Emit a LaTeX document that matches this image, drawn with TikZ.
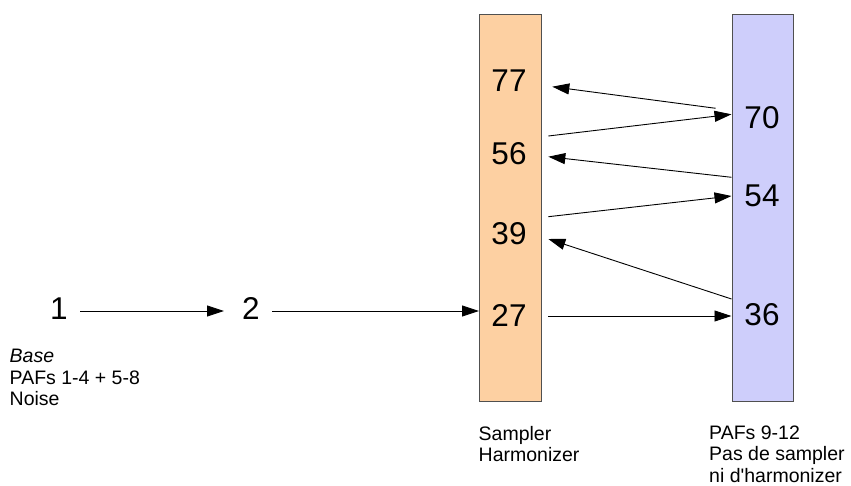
\documentclass[tikz,border=0pt]{standalone}
\usepackage{fontspec}
\setmainfont{Liberation Sans}
\usetikzlibrary{arrows.meta}
\definecolor{orangefill}{HTML}{FDD0A2}
\definecolor{bluefill}{HTML}{CECEFB}
\definecolor{boxline}{HTML}{505050}
\newcommand{\straightquote}{\XeTeXglyph\XeTeXglyphindex "quotesingle"\relax}
\begin{document}
\begin{tikzpicture}[x=1pt,y=-1pt,
  bar/.style={draw=boxline, line width=0.8pt, minimum width=61.4pt, minimum height=387pt, inner sep=0pt, anchor=north west},
  num/.style={font=\fontsize{31.5}{36}\selectfont, anchor=base, inner sep=0pt},
  lbl/.style={font=\fontsize{19.5}{21.5}\selectfont, align=left, anchor=north west, inner sep=0pt},
  arr/.style={-{Triangle[length=17pt,width=11pt]}, line width=0.9pt}]
\useasboundingbox (0,0) rectangle (851,486);
% bars
\node[bar, fill=orangefill] (sh) at (479.3,14) {};
\node[bar, fill=bluefill] (pf) at (731.5,14) {};
% numbers
\node[num] (n1) at (59,319) {1};
\node[num] (n2) at (251,319) {2};
\node[num] (n77) at (509,91.5) {77};
\node[num] (n56) at (509,165) {56};
\node[num] (n39) at (509,245) {39};
\node[num] (n27) at (509,326) {27};
\node[num] (n70) at (762,128.5) {70};
\node[num] (n54) at (762,207) {54};
\node[num] (n36) at (762,325) {36};
% labels
\node[lbl] (lbase) at (9.5,349) {\textit{Base}\\PAFs 1-4 + 5-8\\Noise};
\node[lbl] (lsh) at (478.5,426) {Sampler\\Harmonizer};
\node[lbl] (lpf) at (709,425.5) {PAFs 9-12\\Pas de sampler\\ni d\straightquote harmonizer};
% connector end points
\coordinate (a1s) at (80,311);
\coordinate (a1e) at (224,311);
\coordinate (a2s) at (272,311);
\coordinate (a2e) at (479,311);
\coordinate (b1s) at (715.7,108.3);
\coordinate (b1e) at (552.3,86.7);
\coordinate (b2s) at (548.3,136);
\coordinate (b2e) at (731.5,114.3);
\coordinate (b3s) at (731.5,177.3);
\coordinate (b3e) at (548.3,156.7);
\coordinate (b4s) at (548.3,216.7);
\coordinate (b4e) at (731.5,196);
\coordinate (b5s) at (731.5,299);
\coordinate (b5e) at (548.3,239);
\coordinate (b6s) at (548.3,316);
\coordinate (b6e) at (731.5,316);
% connectors
\draw[arr] (a1s) -- (a1e);
\draw[arr] (a2s) -- (a2e);
\draw[arr] (b1s) -- (b1e);
\draw[arr] (b2s) -- (b2e);
\draw[arr] (b3s) -- (b3e);
\draw[arr] (b4s) -- (b4e);
\draw[arr] (b5s) -- (b5e);
\draw[arr] (b6s) -- (b6e);
\end{tikzpicture}
\end{document}
